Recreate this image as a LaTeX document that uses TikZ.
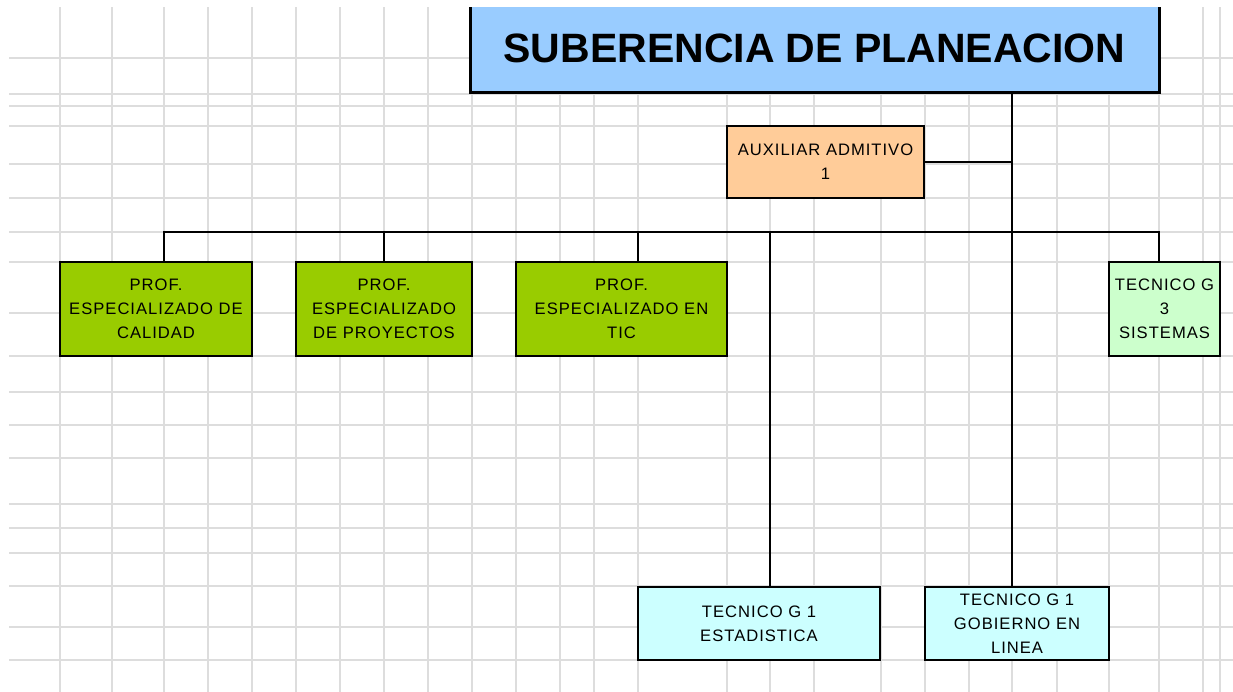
\documentclass[tikz,border=0pt]{standalone}
\usepackage{fontspec}
\setmainfont{Liberation Sans}
\newfontfamily\cellfont[LetterSpace=6]{Liberation Sans}
\usetikzlibrary{positioning}

\definecolor{gridgray}{RGB}{221,221,221}
\definecolor{headblue}{RGB}{153,204,255}
\definecolor{auxpeach}{RGB}{255,204,153}
\definecolor{profgreen}{RGB}{153,204,0}
\definecolor{sisgreen}{RGB}{204,255,204}
\definecolor{tecncyan}{RGB}{204,255,255}

\begin{document}
\begin{tikzpicture}[x=1pt, y=-1pt]
	\tikzset{gridline/.style={gridgray, line width=1.5pt},
		cell/.style={draw, line width=1.2pt, align=center, inner sep=0pt, font=\cellfont\fontsize{16.6}{24}\selectfont},
		head/.style={draw, line width=3pt, fill=headblue, inner sep=0pt, minimum width=689pt, minimum height=90pt, font=\fontsize{41}{48}\selectfont\bfseries},
		aux/.style={cell, fill=auxpeach, minimum width=197pt, minimum height=72pt},
		prof/.style={cell, fill=profgreen, minimum height=94pt},
		tecn/.style={cell, fill=tecncyan, minimum height=73pt},
		link/.style={line width=1.3pt}}
	\useasboundingbox (0,0) rectangle (1233,692);

	% hoja de calculo de fondo
	\foreach \gx in {60,112,164,208,252,296,340,384,428,472,516,560,594,638,727,770,814,881,925,969,1012,1057,1109,1159,1203,1220}
		\draw[gridline] (\gx,7) -- (\gx,692);
	\foreach \gy in {58,94,106,126,164,198,232,262,313,356,392,425,458,504,528,553,586,627,660}
		\draw[gridline] (9,\gy) -- (1233,\gy);

	\node[head] (sub) at (814.5,48) {SUBERENCIA DE PLANEACION};
	\fill[white] (0,0) rectangle (1233,7);

	\node[aux] (aux) at (825.5,162) {AUXILIAR ADMITIVO\\1};

	\node[prof, minimum width=192pt] (calidad) at (156,309) {PROF.\\ESPECIALIZADO DE\\CALIDAD};
	\node[prof, minimum width=176pt, right=42.8pt of calidad] (proyectos) {PROF.\\ESPECIALIZADO\\DE PROYECTOS};
	\node[prof, minimum width=211pt, right=42.8pt of proyectos] (tic) {PROF.\\ESPECIALIZADO EN\\TIC};
	\node[cell, fill=sisgreen, minimum width=111pt, minimum height=94pt] (sistemas) at (1164.5,309) {TECNICO G\\3\\SISTEMAS};

	\node[tecn, minimum width=242pt] (estadistica) at (759,623.5) {TECNICO G 1\\ESTADISTICA};
	\node[tecn, minimum width=184pt, right=43.8pt of estadistica] (gobierno) {TECNICO G 1\\GOBIERNO EN\\LINEA};

	\coordinate (trunk) at (1012,232);
	\draw[link] (sub.south -| trunk) -- (trunk |- gobierno.north);
	\draw[link] (aux.east) -- (aux.east -| trunk);
	\draw[link] ([xshift=8pt]calidad.north) |- (trunk);
	\draw[link] (proyectos.north) |- (trunk);
	\draw[link] ([xshift=16.5pt]tic.north) |- (trunk);
	\draw[link] ([xshift=11pt]estadistica.north) |- (trunk);
	\draw[link] ([xshift=-5.5pt]sistemas.north) |- (trunk);
\end{tikzpicture}
\end{document}
